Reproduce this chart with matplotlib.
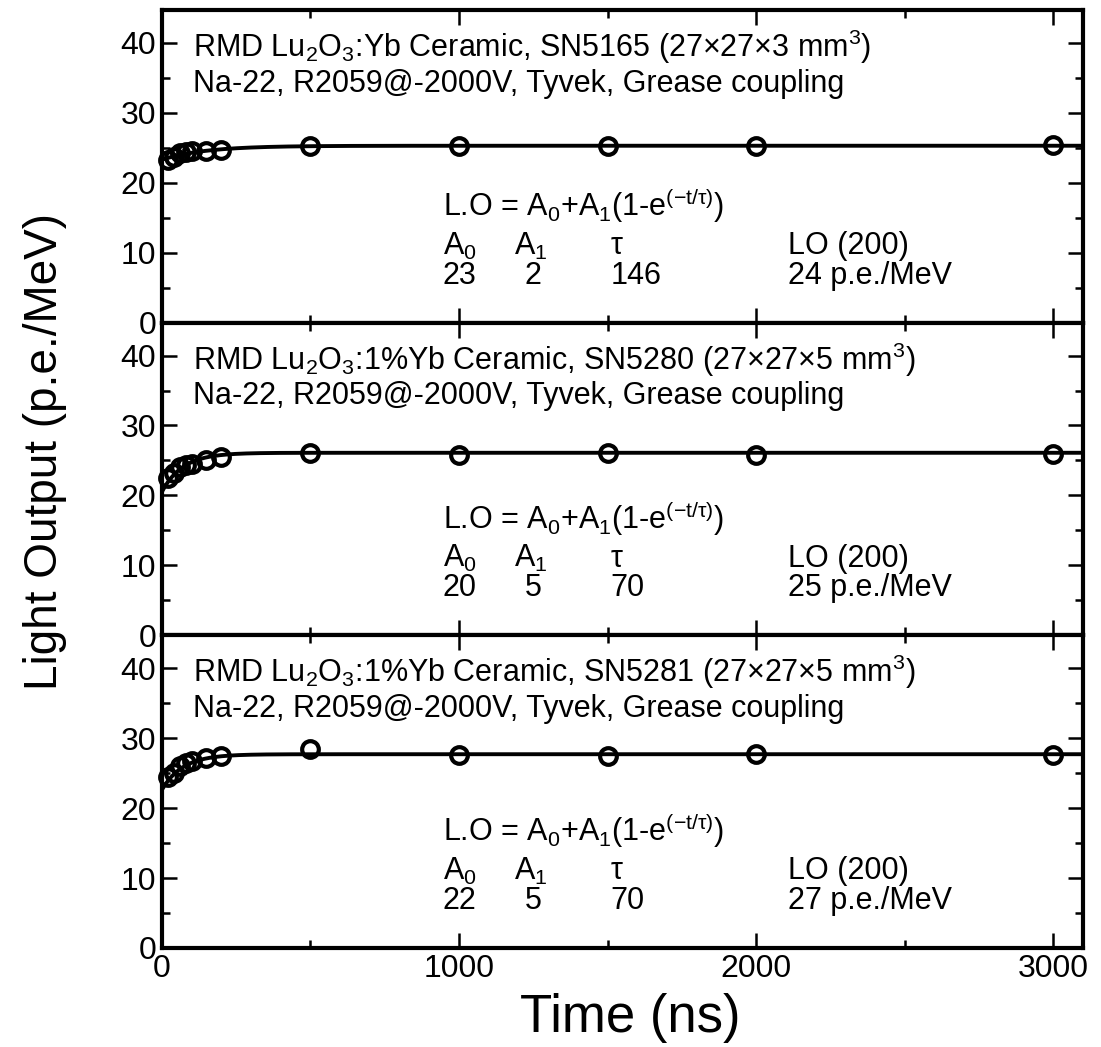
import matplotlib
matplotlib.use("Agg")
import matplotlib.pyplot as plt
import numpy as np
from matplotlib.ticker import MultipleLocator

plt.rcParams["font.family"] = ["Liberation Sans", "DejaVu Sans"]
plt.rcParams["mathtext.fontset"] = "custom"
plt.rcParams["mathtext.rm"] = "Liberation Sans"
plt.rcParams["mathtext.it"] = "Liberation Sans:italic"
plt.rcParams["mathtext.default"] = "regular"

# --------------------------------------------------------------------------- #
# Data
# --------------------------------------------------------------------------- #
time_ns = [20, 40, 60, 80, 100, 150, 200, 500, 1000, 1500, 2000, 3000]

lo_sn5165 = [23.3, 23.7, 24.2, 24.4, 24.5, 24.6, 24.7, 25.3, 25.2, 25.2, 25.3, 25.4]
lo_sn5280 = [22.5, 23.2, 24.0, 24.3, 24.5, 25.0, 25.5, 26.0, 25.8, 26.1, 25.8, 25.9]
lo_sn5281 = [24.5, 25.0, 26.0, 26.5, 26.8, 27.2, 27.4, 28.5, 27.6, 27.5, 27.8, 27.6]

# fit parameters used to draw the curve (A0, A1, tau)
fit_a0 = [23.3, 20.5, 22.6]
fit_a1 = [2.0, 5.6, 5.1]
fit_tau = [146, 70, 70]

# labels printed on each panel
titles = [
    r"RMD Lu$_2$O$_3$:Yb Ceramic, SN5165 (27×27×3 mm$^3$)",
    r"RMD Lu$_2$O$_3$:1%Yb Ceramic, SN5280 (27×27×5 mm$^3$)",
    r"RMD Lu$_2$O$_3$:1%Yb Ceramic, SN5281 (27×27×5 mm$^3$)",
]
setup = "Na-22, R2059@-2000V, Tyvek, Grease coupling"
a0_text = ["23", "20", "22"]
a1_text = ["2", "5", "5"]
tau_text = ["146", "70", "70"]
lo200_text = ["24 p.e./MeV", "25 p.e./MeV", "27 p.e./MeV"]

series = [lo_sn5165, lo_sn5280, lo_sn5281]

# --------------------------------------------------------------------------- #
# Figure
# --------------------------------------------------------------------------- #
fig = plt.figure(figsize=(11.01, 10.47), dpi=100)
left, right = 0.147, 0.9837
bottom, top = 0.0946, 0.9904
h = (top - bottom) / 3

t_fit = np.linspace(0, 3100, 600)
fs_tick = 23
fs_txt = 22

axes = []
for i in range(3):
    ax = fig.add_axes([left, top - (i + 1) * h, right - left, h])
    axes.append(ax)
    ax.plot(t_fit, fit_a0[i] + fit_a1[i] * (1 - np.exp(-t_fit / fit_tau[i])),
            color="black", lw=2.8, zorder=2)
    ax.plot(time_ns, series[i], "o", mfc="none", mec="black", ms=12, mew=3,
            zorder=3, clip_on=False)

    ax.set_xlim(0, 3100)
    ax.set_ylim(0, 44.7)
    ax.xaxis.set_major_locator(MultipleLocator(1000))
    ax.xaxis.set_minor_locator(MultipleLocator(500))
    ax.yaxis.set_major_locator(MultipleLocator(10))
    ax.yaxis.set_minor_locator(MultipleLocator(5))
    ax.tick_params(which="both", direction="in", top=True, right=True,
                   width=1.8, labelsize=fs_tick)
    ax.tick_params(which="major", length=11, pad=4)
    ax.tick_params(which="minor", length=6)
    for sp in ax.spines.values():
        sp.set_linewidth(3)
    if i < 2:
        ax.tick_params(labelbottom=False)

    tr = ax.transAxes
    ax.text(0.034, 0.882, titles[i], transform=tr, fontsize=fs_txt, va="center")
    ax.text(0.034, 0.765, setup, transform=tr, fontsize=fs_txt, va="center")
    ax.text(0.305, 0.375, r"L.O = A$_0$+A$_1$(1-e$^{(-t/τ)}$)", transform=tr,
            fontsize=fs_txt, va="center")
    ax.text(0.305, 0.245, r"A$_0$", transform=tr, fontsize=fs_txt, va="center")
    ax.text(0.382, 0.245, r"A$_1$", transform=tr, fontsize=fs_txt, va="center")
    ax.text(0.487, 0.245, "τ", transform=tr, fontsize=fs_txt, va="center")
    ax.text(0.68, 0.245, "LO (200)", transform=tr, fontsize=fs_txt, va="center")
    ax.text(0.305, 0.15, a0_text[i], transform=tr, fontsize=fs_txt, va="center")
    ax.text(0.412, 0.15, a1_text[i], transform=tr, fontsize=fs_txt, va="center",
            ha="right")
    ax.text(0.487, 0.15, tau_text[i], transform=tr, fontsize=fs_txt, va="center")
    ax.text(0.68, 0.15, lo200_text[i], transform=tr, fontsize=fs_txt, va="center")

fig.text(0.041, 1 - 452 / 1047, "Light Output (p.e./MeV)", rotation=90,
         ha="center", va="center", fontsize=33)
fig.text(0.572, 1 - 1018 / 1047, "Time (ns)", ha="center", va="center",
         fontsize=38)

fig.savefig("out.png", dpi=100)
